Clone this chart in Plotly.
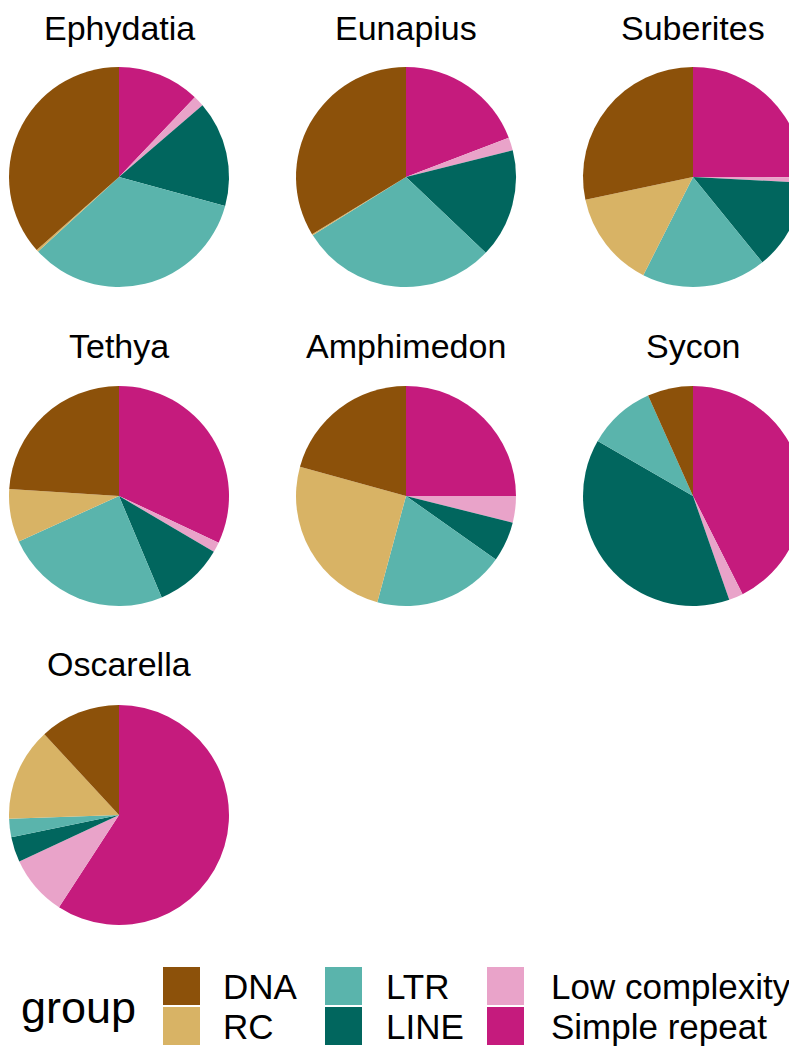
import plotly.graph_objects as go

# the page puts the figure 8px in from the top-left; the right column of pies
# runs slightly past the window edge in the reference, so the figure does too
OFF = 8
W, H = 803 - OFF, 1047 - OFF

species = ["Ephydatia", "Eunapius", "Suberites", "Tethya", "Amphimedon", "Sycon", "Oscarella"]
groups = ["DNA", "RC", "LTR", "LINE", "Low complexity", "Simple repeat"]
colors = ["#8C510A", "#D8B365", "#5AB4AC", "#01665E", "#E9A3C9", "#C51B7D"]

# percent of repeats per group, one list per group (species order as above)
dna = [36.5, 33.7, 28.3, 24.0, 20.7, 6.7, 11.9]
rc = [0.3, 0.2, 14.2, 7.8, 25.1, 0.0, 13.7]
ltr = [33.9, 29.0, 18.3, 24.6, 19.4, 10.0, 2.7]
line = [15.5, 16.0, 13.3, 10.2, 5.9, 38.7, 3.7]
low_complexity = [1.6, 1.9, 0.8, 1.5, 3.9, 2.1, 8.9]
simple_repeat = [12.1, 19.2, 25.0, 32.0, 25.0, 42.6, 59.3]

data = {"DNA": dna, "RC": rc, "LTR": ltr, "LINE": line,
        "Low complexity": low_complexity, "Simple repeat": simple_repeat}

# slices go clockwise from 12 o'clock in reverse legend order
slice_order = groups[::-1]
slice_colors = colors[::-1]


def px(x):
    return (x - OFF) / W


def py(y):
    return 1 - (y - OFF) / H


centers_x = [119, 406, 693]
centers_y = [177, 496, 815]
title_y = [28, 346, 664]
R = 110

fig = go.Figure()
annotations = []
shapes = []

for n, sp in enumerate(species):
    row, col = divmod(n, 3)
    cx, cy = centers_x[col], centers_y[row]
    vals = [data[g][n] for g in slice_order]
    fig.add_trace(go.Pie(
        labels=slice_order,
        values=vals,
        marker=dict(colors=slice_colors, line=dict(width=0)),
        sort=False,
        direction="clockwise",
        rotation=0,
        textinfo="none",
        hoverinfo="label+percent",
        showlegend=False,
        domain=dict(x=[max(px(cx - R), 0), min(px(cx + R), 1)],
                    y=[py(cy + R), py(cy - R)]),
    ))
    annotations.append(dict(
        x=px(cx), y=py(title_y[row]), xref="paper", yref="paper",
        text=sp, showarrow=False, xanchor="center", yanchor="middle",
        font=dict(size=34, color="black"),
    ))

# legend drawn by hand: 3 columns x 2 rows
key_x = [163, 325, 487]
key_y = [967, 1007]
label_x = [221, 384, 549]
for k, (g, c) in enumerate(zip(groups, colors)):
    col, row = divmod(k, 2)
    x0, y0 = key_x[col], key_y[row]
    shapes.append(dict(type="rect", xref="paper", yref="paper",
                       x0=px(x0), x1=px(x0 + 37),
                       y0=py(y0 + 38), y1=py(y0),
                       fillcolor=c, line=dict(width=0)))
    annotations.append(dict(
        x=px(label_x[col]), y=py(y0 + 19), xref="paper", yref="paper",
        text=g, showarrow=False, xanchor="left", yanchor="middle",
        font=dict(size=35, color="black"),
    ))
annotations.append(dict(
    x=px(19), y=py(1007), xref="paper", yref="paper",
    text="group", showarrow=False, xanchor="left", yanchor="middle",
    font=dict(size=45, color="black"),
))

fig.update_layout(
    width=W, height=H,
    margin=dict(l=0, r=0, t=0, b=0),
    paper_bgcolor="white", plot_bgcolor="white",
    font=dict(family="Liberation Sans, Arial, sans-serif"),
    annotations=annotations,
    shapes=shapes,
)

fig.write_html("out.html")
